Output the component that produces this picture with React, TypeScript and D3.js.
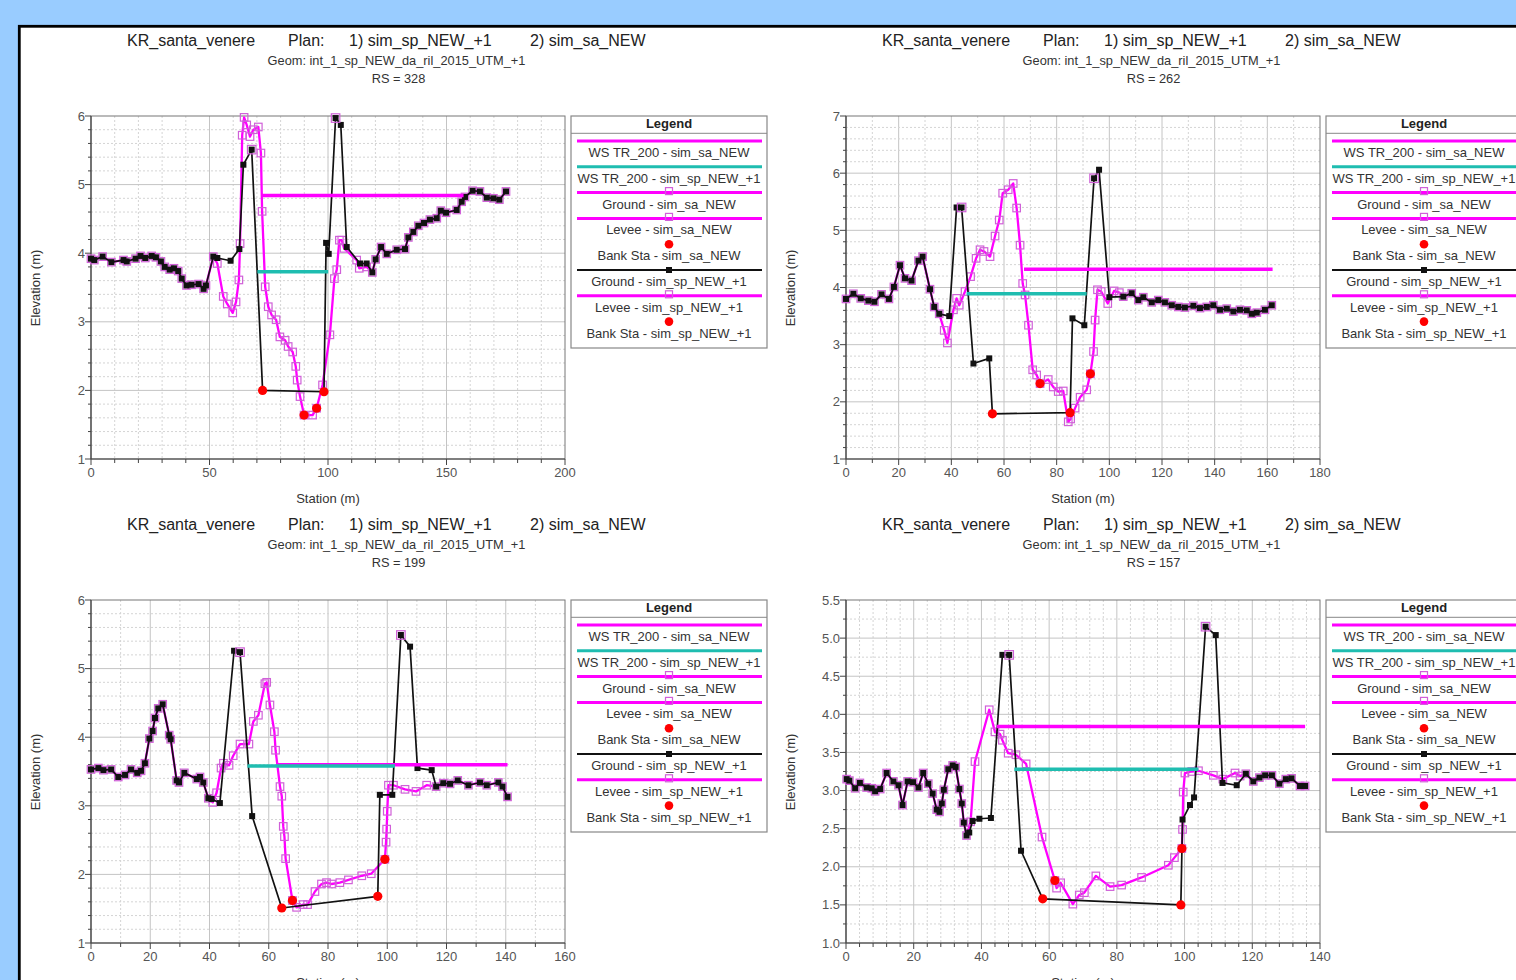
import React from 'react';
import * as d3 from 'd3';

type Pt = [number, number];

const FONT = '"Liberation Sans", Arial, Helvetica, sans-serif';
const MAGENTA = '#ff00ff';
const MAG_MARK = '#d060d8';
const TEAL = '#1fbdb0';
const RED = '#ff0000';

// ---------- text ----------
const riverName = 'KR_santa_venere';
const planLabel = 'Plan:';
const plan1Label = '1) sim_sp_NEW_+1';
const plan2Label = '2) sim_sa_NEW';
const geomLabel = 'Geom: int_1_sp_NEW_da_ril_2015_UTM_+1';
const xTitle = 'Station (m)';
const yTitle = 'Elevation (m)';
const legendTitle = 'Legend';
const legendLabels = [
  'WS TR_200 - sim_sa_NEW',
  'WS TR_200 - sim_sp_NEW_+1',
  'Ground - sim_sa_NEW',
  'Levee - sim_sa_NEW',
  'Bank Sta - sim_sa_NEW',
  'Ground - sim_sp_NEW_+1',
  'Levee - sim_sp_NEW_+1',
  'Bank Sta - sim_sp_NEW_+1',
];
const legendKinds = ['wsSa', 'wsSp', 'groundSa', 'leveeSa', 'bank', 'groundSp', 'leveeSp', 'bank'];

// ---------- RS = 328 ----------
const left328: Pt[] = [[0, 3.92], [1.4, 3.9], [4.9, 3.95], [8.6, 3.87], [13.7, 3.9], [15.1, 3.88], [18.8, 3.92], [20.9, 3.96], [22.9, 3.93], [25.6, 3.96], [27.4, 3.94], [29.5, 3.88], [31.1, 3.8], [33.2, 3.76], [35, 3.78], [36.8, 3.74], [38.3, 3.63], [40.3, 3.53], [42.4, 3.54], [45.4, 3.55], [47.5, 3.48], [48.5, 3.53], [51.6, 3.95]];
const sp328Mid: Pt[] = [[53.3, 3.93], [58.9, 3.89], [62.6, 4.06], [64.3, 5.29], [67.8, 5.51], [72.4, 2.0], [98.3, 1.98], [99.2, 4.15], [100.3, 3.99], [103.2, 5.97], [105.4, 5.87], [107.9, 4.09], [113.5, 3.85], [116.3, 3.85]];
const sa328Mid: Pt[] = [[53.3, 3.85], [55.8, 3.37], [57.5, 3.26], [59.8, 3.13], [61.2, 3.29], [62.4, 3.61], [62.9, 4.14], [63.8, 5.72], [64.6, 5.98], [65.7, 5.87], [67.1, 5.7], [68.5, 5.8], [70.6, 5.84], [71.7, 5.46], [72.2, 4.61], [73.5, 3.51], [74.8, 3.22], [76.2, 3.1], [78.1, 3.03], [79.7, 2.78], [81.9, 2.73], [83.2, 2.64], [85.1, 2.56], [86.4, 2.35], [87.0, 2.15], [88.2, 1.91], [89.9, 1.64], [93.5, 1.64], [95.2, 1.74], [97.7, 2.08], [100.8, 2.81], [102.7, 3.63], [103.7, 3.76], [104.8, 4.19], [105.8, 4.19], [106.8, 4.07], [112.1, 3.9], [113.2, 3.78], [116.3, 3.8]];
const right328: Pt[] = [[118.7, 3.72], [120.1, 3.91], [122.4, 4.09], [124.8, 3.99], [129.0, 4.05], [132.5, 4.06], [133.9, 4.23], [136.0, 4.31], [138.1, 4.4], [140.5, 4.44], [143.0, 4.49], [145.9, 4.51], [147.6, 4.62], [149.8, 4.59], [154.3, 4.63], [156.4, 4.75], [157.8, 4.82], [161.0, 4.91], [164.1, 4.9], [167.0, 4.81], [169.8, 4.8], [172.3, 4.78], [175.1, 4.9]];
const bankSa328: Pt[] = [[89.9, 1.64], [95.2, 1.74]];
const bankSp328: Pt[] = [[72.4, 2.0], [98.3, 1.98]];
const levee328: Pt[] = [[67.8, 5.51], [103.2, 5.97]];
const wsSa328 = [72.2, 157.2, 4.84];
const wsSp328 = [70.2, 100.1, 3.73];

// ---------- RS = 262 ----------
const left262: Pt[] = [[0, 3.8], [2.8, 3.89], [5.6, 3.81], [8.5, 3.77], [10.8, 3.75], [13.5, 3.88], [16.3, 3.8], [18.2, 4.01], [20.5, 4.39], [22.4, 4.16], [24.9, 4.12], [27.5, 4.47], [29.1, 4.54], [31.9, 3.97], [33.5, 3.66], [35.4, 3.54]];
const sp262Mid: Pt[] = [[39.2, 3.5], [42.0, 5.4], [43.9, 5.4], [48.4, 2.67], [54.4, 2.76], [55.6, 1.79], [85.1, 1.81], [86.0, 3.46], [90.5, 3.34], [94.2, 5.91], [96.1, 6.06], [100.0, 3.83]];
const sa262Mid: Pt[] = [[37.3, 3.25], [38.5, 3.03], [40.8, 3.61], [42.0, 3.81], [43.0, 3.69], [45.2, 3.93], [47.3, 4.19], [49.4, 4.51], [50.9, 4.66], [52.4, 4.63], [54.7, 4.54], [56.6, 4.9], [58.2, 5.18], [59.5, 5.65], [61.6, 5.71], [63.5, 5.82], [64.8, 5.39], [66.1, 4.74], [67.1, 4.07], [68.0, 3.87], [69.3, 3.34], [70.9, 2.56], [72.4, 2.47], [73.7, 2.32], [76.8, 2.39], [78.7, 2.26], [80.6, 2.18], [82.5, 2.19], [84.4, 1.65], [85.3, 1.7], [87.0, 1.89], [88.9, 2.08], [91.4, 2.21], [92.8, 2.49], [94.0, 2.88], [94.6, 3.43], [95.5, 3.96], [96.9, 3.93], [99.4, 3.72], [101.8, 3.94], [103.8, 3.91]];
const right262: Pt[] = [[105.3, 3.84], [108.5, 3.9], [111.0, 3.78], [112.9, 3.83], [116.1, 3.74], [118.6, 3.78], [121.1, 3.74], [123.7, 3.69], [126.2, 3.66], [128.7, 3.65], [131.9, 3.68], [134.4, 3.64], [137.0, 3.66], [139.5, 3.69], [142.0, 3.61], [144.6, 3.63], [147.1, 3.58], [149.6, 3.61], [152.2, 3.6], [154.1, 3.54], [156.0, 3.56], [159.1, 3.61], [161.7, 3.69]];
const bankSa262: Pt[] = [[73.7, 2.32], [92.8, 2.49]];
const bankSp262: Pt[] = [[55.6, 1.79], [85.1, 1.81]];
const levee262: Pt[] = [[43.9, 5.4], [94.2, 5.91]];
const wsSa262 = [67.6, 162.0, 4.32];
const wsSp262 = [45.8, 91.4, 3.89];

// ---------- RS = 199 ----------
const left199: Pt[] = [[0, 3.53], [2.5, 3.55], [4.2, 3.52], [6.8, 3.53], [9.2, 3.42], [11.5, 3.45], [13.5, 3.53], [15.6, 3.48], [16.9, 3.51], [18.2, 3.62], [19.7, 3.98], [20.8, 4.09], [21.6, 4.28], [22.7, 4.42], [24.2, 4.48], [26.4, 4.03], [26.9, 3.97], [28.9, 3.37], [29.7, 3.34], [31.5, 3.48], [35.7, 3.39], [36.8, 3.42], [37.9, 3.34], [39.6, 3.11]];
const sp199Mid: Pt[] = [[40.7, 3.1], [43.5, 3.04], [48.3, 5.26], [50.3, 5.24], [54.4, 2.85], [64.4, 1.51], [96.8, 1.68], [97.5, 3.16], [101.7, 3.16], [104.6, 5.49], [107.7, 5.32], [110.2, 3.55], [115.0, 3.52]];
const sa199Mid: Pt[] = [[41.1, 3.05], [42.4, 3.19], [43.9, 3.55], [44.7, 3.62], [46.6, 3.59], [48.0, 3.73], [50.3, 3.9], [53.3, 3.9], [54.8, 4.23], [56.5, 4.32], [58.7, 4.78], [59.3, 4.8], [60.4, 4.47], [61.9, 4.08], [62.3, 3.81], [63.8, 3.28], [64.4, 3.14], [64.9, 2.7], [65.3, 2.55], [65.7, 2.23], [68.0, 1.62], [69.4, 1.52], [71.6, 1.56], [73.1, 1.56], [75.6, 1.75], [77.8, 1.86], [79.5, 1.88], [81.2, 1.86], [84.0, 1.88], [86.9, 1.92], [91.4, 1.98], [94.6, 2.01], [99.2, 2.22], [99.6, 2.47], [99.8, 2.66], [100.0, 2.92], [100.4, 3.3], [102.1, 3.3], [106.0, 3.24], [109.7, 3.21], [113.3, 3.3]];
const right199: Pt[] = [[116.5, 3.28], [118.9, 3.33], [121.2, 3.32], [123.8, 3.37], [127.4, 3.3], [131.3, 3.34], [133.6, 3.3], [137.5, 3.34], [138.9, 3.28], [140.6, 3.13]];
const bankSa199: Pt[] = [[68.0, 1.62], [99.2, 2.22]];
const bankSp199: Pt[] = [[64.4, 1.51], [96.8, 1.68]];
const levee199: Pt[] = [[50.3, 5.24], [104.6, 5.49]];
const wsSa199 = [62.5, 140.6, 3.6];
const wsSp199 = [52.8, 102.6, 3.58];

// ---------- RS = 157 ----------
const left157: Pt[] = [[0.2, 3.15], [1.0, 3.13], [2.7, 3.03], [4.1, 3.1], [6.1, 3.04], [7.6, 3.03], [8.6, 2.99], [10.1, 3.02], [12.0, 3.23], [14.0, 3.12], [15.5, 3.07], [16.7, 2.81], [18.2, 3.12], [19.8, 3.11], [21.4, 3.04], [22.8, 3.23], [24.3, 3.09], [25.6, 2.96], [26.8, 2.75], [27.6, 2.72], [28.3, 2.83], [28.9, 3.01], [30.2, 3.28], [31.5, 3.33], [32.4, 3.31], [33.5, 3.02], [34.2, 2.83], [34.8, 2.58], [35.6, 2.41]];
const sp157Mid: Pt[] = [[36.4, 2.45], [37.4, 2.6], [39.4, 2.63], [42.8, 2.64], [46.2, 4.78], [48.2, 4.78], [51.7, 2.21], [58.1, 1.58], [98.9, 1.5], [99.4, 2.62], [101.6, 2.81], [102.8, 2.91], [106.2, 5.15], [109.2, 5.04], [111.2, 3.1], [115.4, 3.07]];
const sa157Mid: Pt[] = [[36.8, 2.59], [38.1, 3.38], [42.3, 4.06], [44.0, 3.77], [45.5, 3.74], [46.2, 3.66], [47.9, 3.49], [50.2, 3.47], [53.2, 3.35], [57.9, 2.39], [61.7, 1.82], [62.2, 1.72], [63.4, 1.79], [67.0, 1.51], [68.9, 1.63], [70.4, 1.66], [73.8, 1.88], [78.0, 1.74], [81.4, 1.76], [87.3, 1.86], [95.2, 2.02], [97.0, 2.12], [99.2, 2.24], [99.4, 2.49], [99.6, 2.98], [100.1, 3.23], [102.1, 3.25], [104.1, 3.26], [108.5, 3.2], [111.3, 3.15], [114.9, 3.23], [116.4, 3.19]];
const right157: Pt[] = [[118.1, 3.22], [120.3, 3.12], [122.1, 3.17], [123.8, 3.2], [125.8, 3.2], [128.0, 3.09], [129.9, 3.15], [131.6, 3.16], [134.1, 3.06], [135.6, 3.06]];
const bankSa157: Pt[] = [[61.7, 1.82], [99.2, 2.24]];
const bankSp157: Pt[] = [[58.1, 1.58], [98.9, 1.5]];
const levee157: Pt[] = [[48.2, 4.78], [106.2, 5.15]];
const wsSa157 = [44.5, 135.6, 3.84];
const wsSp157 = [49.7, 104.1, 3.28];

interface ChartCfg {
  rs: string; dx: number; dy: number;
  xDom: [number, number]; xMajor: number; xMinor: number;
  yDom: [number, number]; yMajor: number; yMinor: number; yDec: number;
  groundSa: Pt[]; groundSp: Pt[]; bankSa: Pt[]; bankSp: Pt[]; levee: Pt[];
  wsSa: number[]; wsSp: number[];
}

const charts: ChartCfg[] = [
  { rs: '328', dx: 0, dy: 0, xDom: [0, 200], xMajor: 50, xMinor: 10, yDom: [1, 6], yMajor: 1, yMinor: 0.2, yDec: 0,
    groundSa: [...left328, ...sa328Mid, ...right328], groundSp: [...left328, ...sp328Mid, ...right328],
    bankSa: bankSa328, bankSp: bankSp328, levee: levee328, wsSa: wsSa328, wsSp: wsSp328 },
  { rs: '262', dx: 755, dy: 0, xDom: [0, 180], xMajor: 20, xMinor: 10, yDom: [1, 7], yMajor: 1, yMinor: 0.2, yDec: 0,
    groundSa: [...left262, ...sa262Mid, ...right262], groundSp: [...left262, ...sp262Mid, ...right262],
    bankSa: bankSa262, bankSp: bankSp262, levee: levee262, wsSa: wsSa262, wsSp: wsSp262 },
  { rs: '199', dx: 0, dy: 484, xDom: [0, 160], xMajor: 20, xMinor: 10, yDom: [1, 6], yMajor: 1, yMinor: 0.2, yDec: 0,
    groundSa: [...left199, ...sa199Mid, ...right199], groundSp: [...left199, ...sp199Mid, ...right199],
    bankSa: bankSa199, bankSp: bankSp199, levee: levee199, wsSa: wsSa199, wsSp: wsSp199 },
  { rs: '157', dx: 755, dy: 484, xDom: [0, 140], xMajor: 20, xMinor: 4, yDom: [1, 5.5], yMajor: 0.5, yMinor: 0.25, yDec: 1,
    groundSa: [...left157, ...sa157Mid, ...right157], groundSp: [...left157, ...sp157Mid, ...right157],
    bankSa: bankSa157, bankSp: bankSp157, levee: levee157, wsSa: wsSa157, wsSp: wsSp157 },
];

function steps(lo: number, hi: number, step: number): number[] {
  const n = Math.round((hi - lo) / step);
  return d3.range(n + 1).map((i) => +(lo + i * step).toFixed(6));
}
function isMajor(v: number, lo: number, major: number) {
  const r = (v - lo) / major;
  return Math.abs(r - Math.round(r)) < 1e-6;
}

function HollowSq({ cx, cy, s = 7.5 }: { cx: number; cy: number; s?: number }) {
  return <rect x={cx - s / 2} y={cy - s / 2} width={s} height={s} fill="none" stroke={MAG_MARK} strokeWidth={1.2} />;
}

function Chart({ c }: { c: ChartCfg }) {
  const X0 = 91 + c.dx, X1 = 565 + c.dx, Y0 = 116 + c.dy, Y1 = 459 + c.dy;
  const x = d3.scaleLinear().domain(c.xDom).range([X0, X1]);
  const y = d3.scaleLinear().domain(c.yDom).range([Y1, Y0]);
  const line = d3.line<Pt>().x((d) => x(d[0])).y((d) => y(d[1]));
  const xTicks = steps(c.xDom[0], c.xDom[1], c.xMinor);
  const yTicks = steps(c.yDom[0], c.yDom[1], c.yMinor);
  const xMaj = steps(c.xDom[0], c.xDom[1], c.xMajor);
  const yMaj = steps(c.yDom[0], c.yDom[1], c.yMajor);
  const fmtY = d3.format(c.yDec ? '.1f' : 'd');

  const LX0 = 571 + c.dx, LX1 = 767 + c.dx, LY0 = 116 + c.dy;
  const lineL = 577 + c.dx, lineR = 762 + c.dx, lcx = 669 + c.dx;

  return (
    <g>
      {/* titles */}
      <g fontFamily={FONT} fill="#222" fontSize={16}>
        <text x={127 + c.dx} y={45.5 + c.dy}>{riverName}</text>
        <text x={288 + c.dx} y={45.5 + c.dy}>{planLabel}</text>
        <text x={349 + c.dx} y={45.5 + c.dy}>{plan1Label}</text>
        <text x={530 + c.dx} y={45.5 + c.dy}>{plan2Label}</text>
      </g>
      <g fontFamily={FONT} fill="#333" fontSize={12.8} textAnchor="middle">
        <text x={396.5 + c.dx} y={64.5 + c.dy}>{geomLabel}</text>
        <text x={398.5 + c.dx} y={82.5 + c.dy}>{'RS = ' + c.rs}</text>
      </g>

      {/* grid */}
      <rect x={X0} y={Y0} width={X1 - X0} height={Y1 - Y0} fill="#fff" />
      {xTicks.filter((v) => v > c.xDom[0] && v < c.xDom[1]).map((v) => (
        <line key={'gx' + v} x1={x(v)} x2={x(v)} y1={Y0} y2={Y1}
          stroke={isMajor(v, c.xDom[0], c.xMajor) ? '#c4c4c4' : '#d4d4d4'}
          strokeDasharray={isMajor(v, c.xDom[0], c.xMajor) ? undefined : '2,2'} strokeWidth={1} />
      ))}
      {yTicks.filter((v) => v > c.yDom[0] && v < c.yDom[1]).map((v) => (
        <line key={'gy' + v} x1={X0} x2={X1} y1={y(v)} y2={y(v)}
          stroke={isMajor(v, c.yDom[0], c.yMajor) ? '#c4c4c4' : '#d4d4d4'}
          strokeDasharray={isMajor(v, c.yDom[0], c.yMajor) ? undefined : '2,2'} strokeWidth={1} />
      ))}
      <rect x={X0} y={Y0} width={X1 - X0} height={Y1 - Y0} fill="none" stroke="#777" strokeWidth={1} />
      <line x1={X0} x2={X0} y1={Y0} y2={Y1} stroke="#444" strokeWidth={1.2} />
      <line x1={X0} x2={X1} y1={Y1} y2={Y1} stroke="#444" strokeWidth={1.2} />

      {/* ticks */}
      {xTicks.map((v) => (
        <line key={'tx' + v} x1={x(v)} x2={x(v)} y1={Y1} y2={Y1 + (isMajor(v, c.xDom[0], c.xMajor) ? 6 : 4)} stroke="#444" />
      ))}
      {yTicks.map((v) => (
        <line key={'ty' + v} x1={X0} x2={X0 - (isMajor(v, c.yDom[0], c.yMajor) ? 6 : 3)} y1={y(v)} y2={y(v)} stroke="#444" />
      ))}
      <g fontFamily={FONT} fontSize={13} fill="#555">
        {xMaj.map((v) => (
          <text key={'lx' + v} x={x(v)} y={Y1 + 17.5} textAnchor="middle">{d3.format('d')(v)}</text>
        ))}
        {yMaj.map((v) => (
          <text key={'ly' + v} x={X0 - 6} y={y(v)} dy="0.35em" textAnchor="end">{fmtY(v)}</text>
        ))}
      </g>
      <g fontFamily={FONT} fontSize={13} fill="#333" textAnchor="middle">
        <text x={328 + c.dx} y={502.5 + c.dy}>{xTitle}</text>
        <text transform={`translate(${35 + c.dx},${288 + c.dy}) rotate(-90)`} dy="0.35em">{yTitle}</text>
      </g>

      {/* data */}
      <g>
        <path d={line(c.groundSa) || ''} fill="none" stroke={MAGENTA} strokeWidth={2.3} strokeLinejoin="round" />
        {c.groundSa.map((d, i) => <HollowSq key={'ms' + i} cx={x(d[0])} cy={y(d[1])} />)}
        <path d={line(c.groundSp) || ''} fill="none" stroke="#111" strokeWidth={1.7} strokeLinejoin="round" />
        {c.groundSp.map((d, i) => (
          <rect key={'bs' + i} x={x(d[0]) - 3} y={y(d[1]) - 3} width={6} height={6} fill="#111" />
        ))}
        {c.levee.map((d, i) => <HollowSq key={'lv' + i} cx={x(d[0])} cy={y(d[1])} s={8.5} />)}
        <line x1={x(c.wsSa[0])} x2={x(c.wsSa[1])} y1={y(c.wsSa[2])} y2={y(c.wsSa[2])} stroke={MAGENTA} strokeWidth={3.5} />
        <line x1={x(c.wsSp[0])} x2={x(c.wsSp[1])} y1={y(c.wsSp[2])} y2={y(c.wsSp[2])} stroke={TEAL} strokeWidth={3.5} />
        {[...c.bankSa, ...c.bankSp].map((d, i) => (
          <circle key={'bk' + i} cx={x(d[0])} cy={y(d[1])} r={4.6} fill={RED} />
        ))}
      </g>

      {/* legend */}
      <rect x={LX0} y={LY0} width={LX1 - LX0} height={232} fill="#fff" stroke="#888" strokeWidth={1.2} />
      <line x1={LX0} x2={LX1} y1={LY0 + 17.3} y2={LY0 + 17.3} stroke="#888" strokeWidth={1} />
      <text x={lcx} y={LY0 + 12} fontFamily={FONT} fontSize={13} fontWeight="bold" fill="#222" textAnchor="middle">{legendTitle}</text>
      {legendLabels.map((lab, i) => {
        const ly = LY0 + 25 + i * 25.8;
        const kind = legendKinds[i];
        let sym: React.ReactNode = null;
        if (kind === 'wsSa') sym = <line x1={lineL} x2={lineR} y1={ly} y2={ly} stroke={MAGENTA} strokeWidth={3} />;
        else if (kind === 'wsSp') sym = <line x1={lineL} x2={lineR} y1={ly} y2={ly} stroke={TEAL} strokeWidth={3} />;
        else if (kind === 'groundSa' || kind === 'leveeSa' || kind === 'leveeSp')
          sym = (
            <g>
              <line x1={lineL} x2={lineR} y1={ly} y2={ly} stroke={MAGENTA} strokeWidth={3} />
              <HollowSq cx={lcx} cy={ly - 1.5} s={7} />
            </g>
          );
        else if (kind === 'groundSp')
          sym = (
            <g>
              <line x1={lineL} x2={lineR} y1={ly} y2={ly} stroke="#111" strokeWidth={2.2} />
              <rect x={lcx - 3} y={ly - 3} width={6} height={6} fill="#111" />
            </g>
          );
        else sym = <circle cx={lcx} cy={ly} r={4.3} fill={RED} />;
        return (
          <g key={'lg' + i}>
            {sym}
            <text x={lcx} y={ly + 11.5} dy="0.35em" fontFamily={FONT} fontSize={13} fill="#333" textAnchor="middle">{lab}</text>
          </g>
        );
      })}
    </g>
  );
}

export default function App() {
  return (
    <svg width={1516} height={980} style={{ position: 'absolute', left: 0, top: 0, display: 'block' }}>
      <rect x={0} y={0} width={1516} height={980} fill="#99ccff" />
      <rect x={19.3} y={26.3} width={2000} height={2000} fill="#fff" stroke="#000" strokeWidth={2.8} />
      {charts.map((c) => <Chart key={c.rs} c={c} />)}
    </svg>
  );
}
